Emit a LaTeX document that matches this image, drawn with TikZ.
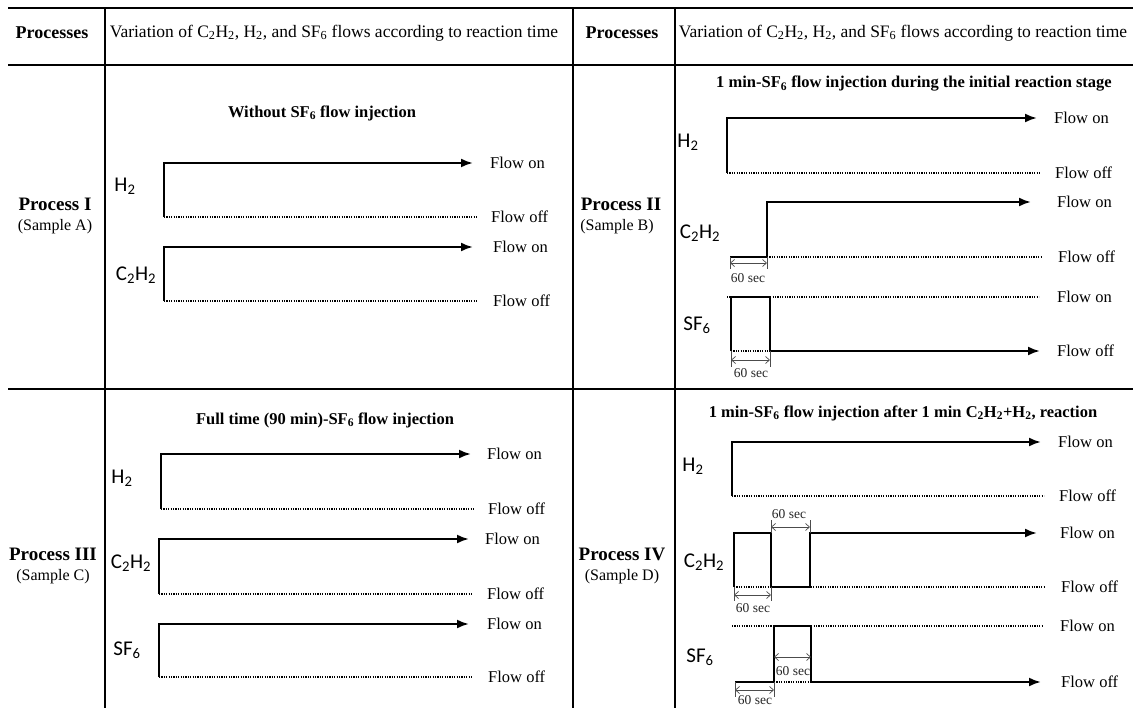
\documentclass[tikz,border=0pt]{standalone}
\usepackage{fontspec}
\setmainfont{Liberation Serif}
\newfontfamily\gasfont{Carlito}
\usetikzlibrary{arrows.meta}

\begin{document}
\begin{tikzpicture}[x=1pt, y=-1pt,
        tline/.style={line width=1.6pt},
        flow/.style={line width=2.2pt},
        onflow/.style={line width=2.2pt, -{Latex[length=12pt,width=9pt]}},
        offline/.style={line width=1.3pt, dash pattern=on 1.2pt off 1.2pt},
        span/.style={gray!60!black, line width=0.7pt,
                     {Straight Barb[length=4pt,width=7pt]}-{Straight Barb[length=4pt,width=7pt]}},
        tick/.style={gray!60!black, line width=0.7pt},
        lvl/.style={anchor=west, inner sep=0pt, font=\fontsize{16.5}{18}\selectfont},
        gas/.style={inner sep=0pt, font=\gasfont\fontsize{21}{24}\selectfont},
        hd/.style={inner sep=0pt, font=\fontsize{17.5}{20}\selectfont},
        proc/.style={inner sep=0pt, font=\bfseries\fontsize{19}{22}\selectfont},
        smp/.style={inner sep=0pt, font=\fontsize{16}{18}\selectfont},
        ttl/.style={inner sep=0pt, font=\bfseries\fontsize{16.5}{18}\selectfont},
        sec/.style={inner sep=0pt, text=black!85, font=\fontsize{13.5}{15}\selectfont}]
    \useasboundingbox (0,0) rectangle (1139,708);

    % table frame
    \draw[line width=2.5pt] (8,8) -- (1133,8);
    \draw[tline] (8,65) -- (1133,65);
    \draw[tline] (8,389) -- (1133,389);
    \draw[tline] (105,9) -- (105,708);
    \draw[tline] (573,9) -- (573,708);
    \draw[tline] (675,9) -- (675,708);

    % header
    \node[proc, font=\bfseries\fontsize{18}{20}\selectfont] (hp1) at (52,33) {Processes};
    \node[hd] (hv1) at (334,33) {Variation of C\textsubscript{2}H\textsubscript{2}, H\textsubscript{2}, and SF\textsubscript{6} flows according to reaction time};
    \node[proc, font=\bfseries\fontsize{18}{20}\selectfont] (hp2) at (622,33) {Processes};
    \node[hd] (hv2) at (903,33) {Variation of C\textsubscript{2}H\textsubscript{2}, H\textsubscript{2}, and SF\textsubscript{6} flows according to reaction time};

    % process names
    \node[proc] (p1) at (55,204) {Process I};
    \node[smp] (s1) at (55,227) {(Sample A)};
    \node[proc] (p2) at (621,204) {Process II};
    \node[smp] (s2) at (617,227) {(Sample B)};
    \node[proc] (p3) at (53,554) {Process III};
    \node[smp] (s3) at (53,577) {(Sample C)};
    \node[proc] (p4) at (622,554) {Process IV};
    \node[smp] (s4) at (622,577) {(Sample D)};

    % Process I
    \node[ttl] (t1) at (322,113) {Without SF\textsubscript{6} flow injection};
    \node[gas] (a-h2) at (125,186) {H\textsubscript{2}};
    \node[lvl] (a-h2on) at (490,163) {Flow on};
    \node[lvl] (a-h2off) at (491,217) {Flow off};
    \draw[onflow, shorten >=17pt] (164,217) |- (a-h2on);
    \draw[offline, shorten >=14pt] (164,217) -- (a-h2off);
    \node[gas] (a-c2) at (136,275) {C\textsubscript{2}H\textsubscript{2}};
    \node[lvl] (a-c2on) at (493,247) {Flow on};
    \node[lvl] (a-c2off) at (493,301) {Flow off};
    \draw[onflow, shorten >=20pt] (164,301) |- (a-c2on);
    \draw[offline, shorten >=16pt] (164,301) -- (a-c2off);

    % Process II
    \node[ttl] (t2) at (914,84) {1 min-SF\textsubscript{6} flow injection during the initial reaction stage};
    \node[gas] (b-h2) at (688,142) {H\textsubscript{2}};
    \node[lvl] (b-h2on) at (1054,118) {Flow on};
    \node[lvl] (b-h2off) at (1055,173) {Flow off};
    \draw[onflow, shorten >=17pt] (727,173) |- (b-h2on);
    \draw[offline, shorten >=14pt] (727,173) -- (b-h2off);
    \node[gas] (b-c2) at (700,233) {C\textsubscript{2}H\textsubscript{2}};
    \node[lvl] (b-c2on) at (1057,202) {Flow on};
    \node[lvl] (b-c2off) at (1058,257) {Flow off};
    \draw[onflow, shorten >=26pt] (730,257) -- (767,257) |- (b-c2on);
    \draw[offline, shorten >=17pt] (767,257) -- (b-c2off);
    \draw[tick] (730,257) -- (730,269) (767,257) -- (767,269);
    \draw[span] (730,263) -- (767,263);
    \node[sec] (b-c2s) at (748,278) {60 sec};
    \node[gas] (b-sf) at (697,325) {SF\textsubscript{6}};
    \node[lvl] (b-sfon) at (1057,297) {Flow on};
    \node[lvl] (b-sfoff) at (1057,351) {Flow off};
    \draw[offline, shorten >=18pt] (727,297) -- (b-sfon);
    \draw[offline] (731,351) -- (770,351);
    \draw[flow] (731,351) |- (770,297) -- (770,351);
    \draw[onflow, shorten >=17pt] (770,351) -- (b-sfoff);
    \draw[tick] (731,351) -- (731,367) (770,351) -- (770,367);
    \draw[span] (731,360) -- (770,360);
    \node[sec] (b-sfs) at (751,373) {60 sec};

    % Process III
    \node[ttl] (t3) at (325,420) {Full time (90 min)-SF\textsubscript{6} flow injection};
    \node[gas] (c-h2) at (122,478) {H\textsubscript{2}};
    \node[lvl] (c-h2on) at (487,454) {Flow on};
    \node[lvl] (c-h2off) at (488,509) {Flow off};
    \draw[onflow, shorten >=16pt] (161,509) |- (c-h2on);
    \draw[offline, shorten >=13pt] (161,509) -- (c-h2off);
    \node[gas] (c-c2) at (131,563) {C\textsubscript{2}H\textsubscript{2}};
    \node[lvl] (c-c2on) at (485,539) {Flow on};
    \node[lvl] (c-c2off) at (487,594) {Flow off};
    \draw[onflow, shorten >=16pt] (159,594) |- (c-c2on);
    \draw[offline, shorten >=14pt] (159,594) -- (c-c2off);
    \node[gas] (c-sf) at (127,650) {SF\textsubscript{6}};
    \node[lvl] (c-sfon) at (487,624) {Flow on};
    \node[lvl] (c-sfoff) at (488,677) {Flow off};
    \draw[onflow, shorten >=18pt] (159,677) |- (c-sfon);
    \draw[offline, shorten >=15pt] (159,677) -- (c-sfoff);

    % Process IV
    \node[ttl] (t4) at (903,413) {1 min-SF\textsubscript{6} flow injection after 1 min C\textsubscript{2}H\textsubscript{2}+H\textsubscript{2}, reaction};
    \node[gas] (d-h2) at (693,466) {H\textsubscript{2}};
    \node[lvl] (d-h2on) at (1058,442) {Flow on};
    \node[lvl] (d-h2off) at (1059,496) {Flow off};
    \draw[onflow, shorten >=17pt] (732,496) |- (d-h2on);
    \draw[offline, shorten >=15pt] (732,496) -- (d-h2off);
    \node[gas] (d-c2) at (704,562) {C\textsubscript{2}H\textsubscript{2}};
    \node[lvl] (d-c2on) at (1060,533) {Flow on};
    \node[lvl] (d-c2off) at (1061,587) {Flow off};
    \draw[offline, shorten >=16pt] (734,587) -- (d-c2off);
    \draw[onflow, shorten >=23pt] (734,587) |- (771,533) -- (771,587) -- (810,587) |- (d-c2on);
    \draw[tick] (734,587) -- (734,601) (771,587) -- (771,601);
    \draw[span] (734,595) -- (771,595);
    \node[sec] (d-c2s1) at (753,608) {60 sec};
    \draw[tick] (771,533) -- (771,520) (810,533) -- (810,520);
    \draw[span] (771,527) -- (810,527);
    \node[sec] (d-c2s2) at (789,514) {60 sec};
    \node[gas] (d-sf) at (700,657) {SF\textsubscript{6}};
    \node[lvl] (d-sfon) at (1060,626) {Flow on};
    \node[lvl] (d-sfoff) at (1061,682) {Flow off};
    \draw[offline, shorten >=17pt] (732,626) -- (d-sfon);
    \draw[offline] (774,682) -- (811,682);
    \draw[onflow, shorten >=20pt] (735,682) -- (774,682) |- (811,626) -- (811,682) -- (d-sfoff);
    \draw[span] (774,657) -- (811,657);
    \node[sec] (d-sfs1) at (793,671) {60 sec};
    \draw[tick] (735,682) -- (735,697) (774,682) -- (774,697);
    \draw[span] (735,690) -- (774,690);
    \node[sec] (d-sfs2) at (755,700) {60 sec};
\end{tikzpicture}
\end{document}
